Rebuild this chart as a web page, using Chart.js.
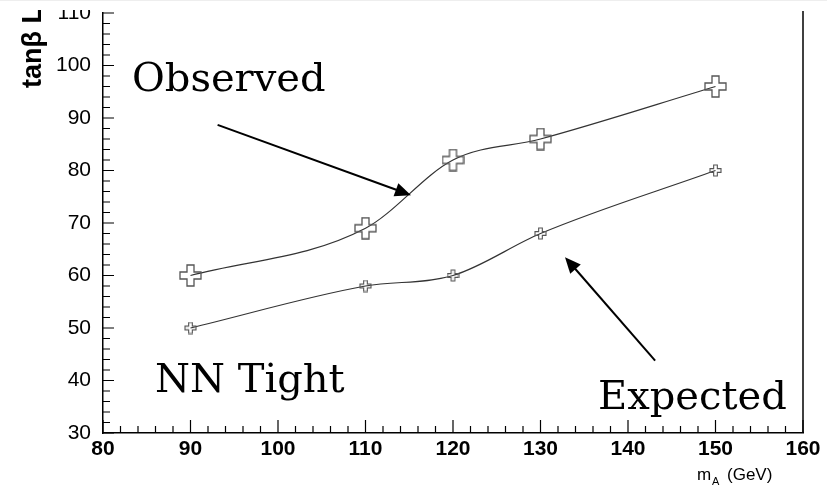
<!DOCTYPE html>
<html>
<head>
<meta charset="utf-8">
<script src="https://cdn.jsdelivr.net/npm/chart.js@4/dist/chart.umd.min.js"></script>
<style>
  html, body { margin: 0; padding: 0; background: #fff; }
  #wrap { width: 827px; height: 488px; position: relative; }
</style>
</head>
<body>
<div id="wrap"><canvas id="c" width="827" height="488"></canvas></div>
<script>
// Limite tanβ vs m_A, courbes observée / attendue (NN Tight)
const massesA = [90, 110, 120, 130, 150];
const observed = [60, 69, 82, 86, 96];
const expected = [50, 58, 60, 68, 80];
const yTicks = [30, 40, 50, 60, 70, 80, 90, 100, 110];
const xTicks = [80, 90, 100, 110, 120, 130, 140, 150, 160];

// Croix creuse (marqueur style ROOT)
function openCross(size, lw) {
  const c = document.createElement("canvas");
  c.width = size + 2; c.height = size + 2;
  const g = c.getContext("2d");
  const s = size, a = s / 3, o = 1;
  g.beginPath();
  g.moveTo(o + a, o); g.lineTo(o + 2 * a, o); g.lineTo(o + 2 * a, o + a);
  g.lineTo(o + s, o + a); g.lineTo(o + s, o + 2 * a); g.lineTo(o + 2 * a, o + 2 * a);
  g.lineTo(o + 2 * a, o + s); g.lineTo(o + a, o + s); g.lineTo(o + a, o + 2 * a);
  g.lineTo(o, o + 2 * a); g.lineTo(o, o + a); g.lineTo(o + a, o + a);
  g.closePath();
  g.strokeStyle = "#555";
  g.lineWidth = lw;
  g.stroke();
  return c;
}

const bigCross = openCross(21, 1.3);
const smallCross = openCross(11, 1.1);

function arrow(ctx, x0, y0, x1, y1) {
  const ang = Math.atan2(y1 - y0, x1 - x0);
  const L = 16, W = 7;
  ctx.save();
  ctx.strokeStyle = "#000";
  ctx.fillStyle = "#000";
  ctx.lineWidth = 2;
  ctx.beginPath();
  ctx.moveTo(x0, y0);
  ctx.lineTo(x1 - Math.cos(ang) * L * 0.8, y1 - Math.sin(ang) * L * 0.8);
  ctx.stroke();
  ctx.beginPath();
  ctx.moveTo(x1, y1);
  ctx.lineTo(x1 - Math.cos(ang) * L - Math.sin(ang) * W, y1 - Math.sin(ang) * L + Math.cos(ang) * W);
  ctx.lineTo(x1 - Math.cos(ang) * L + Math.sin(ang) * W, y1 - Math.sin(ang) * L - Math.cos(ang) * W);
  ctx.closePath();
  ctx.fill();
  ctx.restore();
}

const decor = {
  id: "decor",
  afterDraw(chart) {
    const { ctx, chartArea: ca, scales: { x, y } } = chart;
    ctx.save();
    ctx.strokeStyle = "#000";
    ctx.lineWidth = 1.5;
    // cadre droit
    ctx.beginPath();
    ctx.moveTo(ca.right, ca.top - 2);
    ctx.lineTo(ca.right, ca.bottom);
    ctx.stroke();
    // graduations internes
    ctx.lineWidth = 1.2;
    ctx.beginPath();
    for (let v = 80; v <= 160; v += 2) {
      const px = x.getPixelForValue(v);
      const len = v % 10 === 0 ? 13 : 7;
      ctx.moveTo(px, ca.bottom);
      ctx.lineTo(px, ca.bottom - len);
    }
    for (let v = 30; v <= 110; v += 2) {
      const py = y.getPixelForValue(v);
      const len = v % 10 === 0 ? 11 : 7;
      ctx.moveTo(ca.left, py);
      ctx.lineTo(ca.left + len, py);
    }
    ctx.stroke();

    // annotations
    ctx.fillStyle = "#000";
    ctx.font = "40px 'DejaVu Serif'";
    ctx.textBaseline = "alphabetic";
    ctx.textAlign = "left";
    ctx.fillText("Observed", 132, 91);
    ctx.fillText("NN Tight", 155, 392);
    ctx.fillText("Expected", 598, 409);

    arrow(ctx, x.getPixelForValue(93.1), y.getPixelForValue(88.7),
               x.getPixelForValue(115.2), y.getPixelForValue(75.3));
    arrow(ctx, x.getPixelForValue(143.1), y.getPixelForValue(43.8),
               x.getPixelForValue(132.8), y.getPixelForValue(63.5));

    // titre de l'axe Y (tourné)
    ctx.save();
    ctx.translate(41, 88);
    ctx.rotate(-Math.PI / 2);
    ctx.font = "bold 27px 'Liberation Sans'";
    ctx.fillText("tanβ L", 0, 0);
    ctx.restore();

    // titre de l'axe X
    ctx.font = "17px 'Liberation Sans'";
    ctx.textAlign = "left";
    ctx.fillText("m", 697, 480);
    ctx.font = "11px 'Liberation Sans'";
    ctx.fillText("A", 712, 485);
    ctx.font = "17px 'Liberation Sans'";
    ctx.fillText("(GeV)", 727, 480);

    // bord supérieur rogné
    ctx.fillStyle = "#fff";
    ctx.fillRect(0, 0, chart.width, 10);
    ctx.fillStyle = "#eee";
    ctx.fillRect(0, 0, chart.width, 1);
    ctx.restore();
  }
};

new Chart(document.getElementById("c"), {
  type: "line",
  data: {
    datasets: [
      {
        label: "Observed",
        data: massesA.map((m, i) => ({ x: m, y: observed[i] })),
        borderColor: "#333",
        borderWidth: 1.2,
        cubicInterpolationMode: "monotone",
        pointStyle: bigCross,
        pointRadius: 10,
        fill: false,
      },
      {
        label: "Expected",
        data: massesA.map((m, i) => ({ x: m, y: expected[i] })),
        borderColor: "#333",
        borderWidth: 1.2,
        cubicInterpolationMode: "monotone",
        pointStyle: smallCross,
        pointRadius: 6,
        fill: false,
      },
    ],
  },
  options: {
    responsive: false,
    animation: false,
    layout: { padding: { top: 13, right: 24, left: 0, bottom: 0 } },
    plugins: { legend: { display: false }, tooltip: { enabled: false } },
    scales: {
      x: {
        type: "linear",
        min: 80,
        max: 160,
        afterBuildTicks: (s) => { s.ticks = xTicks.map((v) => ({ value: v })); },
        afterFit: (s) => { s.height = 55; s.paddingLeft = 0; s.paddingRight = 0; },
        grid: { display: false, drawTicks: false },
        border: { display: true, color: "#000", width: 1.5 },
        ticks: {
          color: "#000",
          padding: 4,
          maxRotation: 0,
          font: { family: "'Liberation Sans'", size: 21, weight: "bold" },
        },
      },
      y: {
        type: "linear",
        min: 30,
        max: 110,
        afterBuildTicks: (s) => { s.ticks = yTicks.map((v) => ({ value: v })); },
        afterFit: (s) => { s.width = 103; s.paddingTop = 0; s.paddingBottom = 0; },
        grid: { display: false, drawTicks: false },
        border: { display: true, color: "#000", width: 1.5 },
        ticks: {
          color: "#000",
          padding: 12,
          font: { family: "'Liberation Sans'", size: 21 },
        },
      },
    },
  },
  plugins: [decor],
});
</script>
</body>
</html>
